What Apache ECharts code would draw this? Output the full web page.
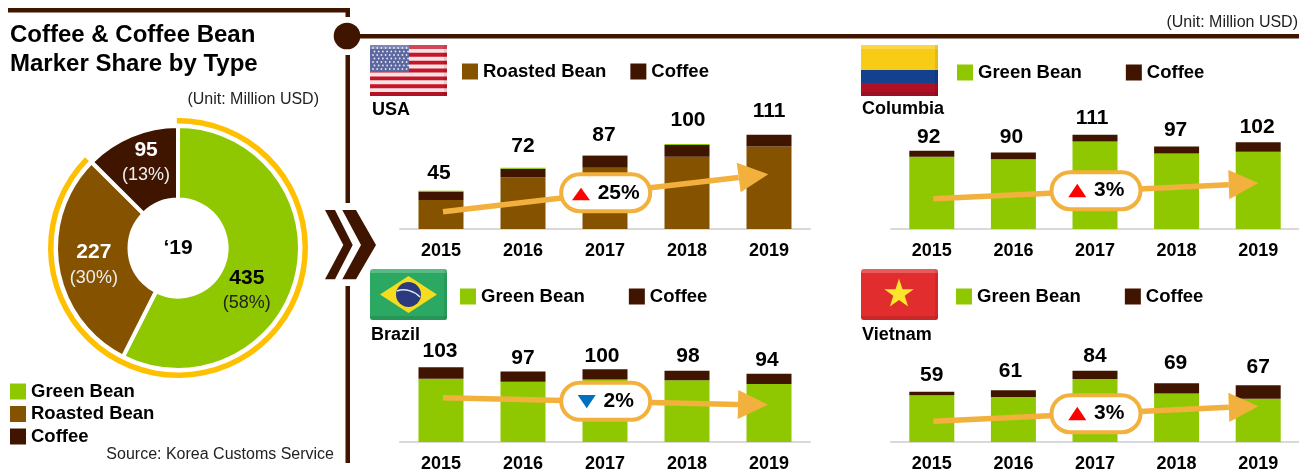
<!DOCTYPE html>
<html>
<head>
<meta charset="utf-8">
<title>Coffee & Coffee Bean Marker Share by Type</title>
<script src="https://cdn.jsdelivr.net/npm/echarts@6/dist/echarts.min.js"></script>
<style>
  html, body { margin: 0; padding: 0; background: #fff; }
  #chart { width: 1299px; height: 473px; }
</style>
</head>
<body>
<div id="chart"></div>
<script>
// values (Million USD)
const years = ['2015', '2016', '2017', '2018', '2019']

const shareNames = ['Green Bean', 'Roasted Bean', 'Coffee']
const shareValues = [435, 227, 95]
const sharePercents = [58, 30, 13]

const usaRoasted = [34, 61, 72, 85, 97]
const usaCoffee = [10, 10, 14, 14, 14]
const usaGreen = [1, 1, 1, 1, 0]
const usaTotals = [45, 72, 87, 100, 111]

const columbiaGreen = [85, 82, 103, 89, 91]
const columbiaCoffee = [7, 8, 8, 8, 11]
const columbiaTotals = [92, 90, 111, 97, 102]

const brazilGreen = [87, 83, 86, 85, 80]
const brazilCoffee = [16, 14, 14, 13, 14]
const brazilTotals = [103, 97, 100, 98, 94]

const vietnamGreen = [55, 53, 74, 57, 51]
const vietnamCoffee = [4, 8, 10, 12, 15]
const vietnamRoasted = [0, 0, 0, 0, 1]
const vietnamTotals = [59, 61, 84, 69, 67]

const GREEN = '#8FC800'
const BROWN = '#855200'
const DARK = '#401500'
const GOLD = '#FFC000'
const ORANGE = '#F2B13C'
const FONT = '"Liberation Sans", Arial, sans-serif'

const colorOf = { 'Green Bean': GREEN, 'Roasted Bean': BROWN, 'Coffee': DARK }

// label nudges so the totals sit where the reference has them
const panels = [
  {
    left: 400, bottom: 229, yMax: 153, totals: usaTotals,
    stack: [['Roasted Bean', usaRoasted], ['Coffee', usaCoffee], ['Green Bean', usaGreen]],
    nudge: [[-2, -4], [0, -8], [-1, -6], [1, -10], [0, -10]]
  },
  {
    left: 891, bottom: 229, yMax: 153, totals: columbiaTotals,
    stack: [['Green Bean', columbiaGreen], ['Coffee', columbiaCoffee]],
    nudge: [[-3, 0], [-2, -2], [-3, -3], [-1, -3], [-1, -2]]
  },
  {
    left: 400, bottom: 442, yMax: 179, totals: brazilTotals,
    stack: [['Green Bean', brazilGreen], ['Coffee', brazilCoffee]],
    nudge: [[-1, -2], [0, 0], [-3, 0], [1, -1], [-2, 0]]
  },
  {
    left: 891, bottom: 442, yMax: 153, totals: vietnamTotals,
    stack: [['Green Bean', vietnamGreen], ['Coffee', vietnamCoffee], ['Roasted Bean', vietnamRoasted]],
    nudge: [[0, -3], [-3, -5], [0, -1], [-1, -7], [0, -4]]
  }
]

const grids = []
const xAxes = []
const yAxes = []
const barSeries = []

panels.forEach((p, i) => {
  grids.push({ left: p.left, width: 410, top: p.bottom - 130, height: 130 })
  xAxes.push({
    type: 'category',
    gridIndex: i,
    data: years,
    axisTick: { show: false },
    axisLine: { lineStyle: { color: '#D9D9D9', width: 2 } },
    axisLabel: { color: '#000', fontSize: 18, fontWeight: 'bold', fontFamily: FONT, margin: 13 }
  })
  yAxes.push({ type: 'value', gridIndex: i, min: 0, max: p.yMax, show: false })

  p.stack.forEach(([name, values]) => {
    barSeries.push({
      type: 'bar',
      name: name,
      xAxisIndex: i,
      yAxisIndex: i,
      stack: 'panel' + i,
      barWidth: 45,
      data: values,
      itemStyle: { color: colorOf[name] }
    })
  })

  // invisible line that only carries the total above each stack
  barSeries.push({
    type: 'line',
    name: 'Total ' + i,
    xAxisIndex: i,
    yAxisIndex: i,
    symbol: 'circle',
    symbolSize: 1,
    showSymbol: true,
    showAllSymbol: true,
    itemStyle: { color: 'transparent' },
    lineStyle: { opacity: 0 },
    z: 5,
    data: p.totals.map((v, j) => ({ value: v, label: { offset: p.nudge[j] } })),
    label: { show: true, position: 'top', distance: 2.5, color: '#000', fontSize: 21, fontWeight: 'bold', fontFamily: FONT }
  })
})

const PIE_CENTER = [178, 248]
const pieLabelShift = [[-17, 22], [3, 3], [2, -4]]

const pieSeries = [
  {
    type: 'pie',
    name: 'Share',
    center: PIE_CENTER,
    radius: [48.5, 122],
    startAngle: 90,
    clockwise: true,
    silent: true,
    itemStyle: { borderColor: '#fff', borderWidth: 4 },
    data: shareNames.map((name, i) => ({
      name: name,
      value: shareValues[i],
      itemStyle: { color: colorOf[name] },
      label: {
        rich: i === 0
          ? { v: { fontSize: 21, fontWeight: 'bold', color: '#000', lineHeight: 25, fontFamily: FONT }, p: { fontSize: 18, color: '#222', lineHeight: 25, fontFamily: FONT } }
          : { v: { fontSize: 21, fontWeight: 'bold', color: '#fff', lineHeight: 25, fontFamily: FONT }, p: { fontSize: 18, color: '#eee', lineHeight: 25, fontFamily: FONT } }
      }
    })),
    label: {
      show: true,
      position: 'inside',
      formatter: (a) => `{v|${a.value}}\n{p|(${sharePercents[a.dataIndex]}%)}`
    },
    labelLine: { show: false },
    labelLayout: (a) => ({ dx: pieLabelShift[a.dataIndex][0], dy: pieLabelShift[a.dataIndex][1] })
  },
  {
    // gold ring that leaves the coffee slice open
    type: 'pie',
    name: 'Ring',
    center: PIE_CENTER,
    radius: [124.5, 130],
    startAngle: 90.5,
    silent: true,
    label: { show: false },
    labelLine: { show: false },
    data: [
      { name: 'ring', value: shareValues[0] + shareValues[1], itemStyle: { color: GOLD } },
      { name: 'gap', value: shareValues[2], itemStyle: { color: 'transparent' } }
    ]
  }
]

const legendText = { color: '#000', fontSize: 18.5, fontWeight: 'bold', fontFamily: FONT }
const legendBase = { selectedMode: false, icon: 'rect', itemWidth: 16, itemHeight: 16, textStyle: legendText, padding: 0 }

const legends = [
  { ...legendBase, orient: 'vertical', left: 10, top: 382, itemGap: 3.5, data: shareNames },
  { ...legendBase, left: 462, top: 62, itemGap: 24, data: ['Roasted Bean', 'Coffee'] },
  { ...legendBase, left: 957, top: 63, itemGap: 44, data: ['Green Bean', 'Coffee'] },
  { ...legendBase, left: 460, top: 287, itemGap: 44, data: ['Green Bean', 'Coffee'] },
  { ...legendBase, left: 956, top: 287, itemGap: 44, data: ['Green Bean', 'Coffee'] }
]

// ---- decoration: rules, chevrons, flags, trend arrows ----
const deco = []

function addRect(x, y, w, h, fill, extra) {
  deco.push({ type: 'rect', z: 20, shape: { x, y, width: w, height: h, r: (extra && extra.r) || 0 }, style: { fill, opacity: extra && extra.opacity !== undefined ? extra.opacity : 1 } })
}
function addPoly(points, fill, z) {
  deco.push({ type: 'polygon', z: z || 20, shape: { points }, style: { fill } })
}
function addText(text, x, y, size, bold, align, color) {
  deco.push({
    type: 'text', z: 30, x, y,
    style: { text, fill: color || '#000', font: `${bold ? 'bold ' : ''}${size}px ${FONT}`, textAlign: align || 'left', textVerticalAlign: 'middle' }
  })
}

addRect(8, 8, 342, 4.5, DARK)
addRect(345.5, 8, 4.5, 9, DARK)
addRect(345.5, 55, 4.5, 148, DARK)
addRect(345.5, 286, 4.5, 177, DARK)
addRect(347, 34, 952, 4.5, DARK)
deco.push({ type: 'circle', z: 21, shape: { cx: 347, cy: 36, r: 13.3 }, style: { fill: DARK } })

addPoly([[325, 210], [335, 210], [352.7, 245], [335, 279.3], [325, 279.3], [343.3, 245]], DARK)
addPoly([[342.3, 210], [356, 210], [376, 245], [356, 279.3], [342.3, 279.3], [361, 245]], DARK)

function flagFinish(x, y) {
  addRect(x, y, 77, 4, '#fff', { opacity: 0.22 })
  addRect(x, y + 47, 77, 4, '#000', { opacity: 0.1 })
  addRect(x + 74, y, 3, 51, '#000', { opacity: 0.08 })
}

function flagUsa(x, y) {
  addRect(x, y, 77, 51, '#F3E3E3', { r: 3 })
  const stripe = 51 / 13
  for (let i = 0; i < 13; i += 2) addRect(x, y + i * stripe, 77, stripe, '#C8142B')
  addRect(x, y, 39, 27, '#5C679F')
  for (let r = 0; r < 7; r++) {
    for (let c = 0; c < 9; c++) {
      deco.push({ type: 'circle', z: 21, shape: { cx: x + 3 + c * 4.2 + (r % 2) * 1.5, cy: y + 3 + r * 3.5, r: 0.9 }, style: { fill: '#E6E8F2' } })
    }
  }
  flagFinish(x, y)
}

function flagColumbia(x, y) {
  addRect(x, y, 77, 25, '#F8CB14')
  addRect(x, y + 25, 77, 13, '#13418D')
  addRect(x, y + 38, 77, 13, '#AE1025')
  flagFinish(x, y)
}

function flagBrazil(x, y) {
  addRect(x, y, 77, 51, '#2BA862', { r: 3 })
  addPoly([[x + 10, y + 25.5], [x + 38.5, y + 7], [x + 67, y + 25.5], [x + 38.5, y + 44]], '#F5DC1E', 20)
  deco.push({ type: 'circle', z: 21, shape: { cx: x + 38.5, cy: y + 25.5, r: 12.5 }, style: { fill: '#2B3A7E' } })
  deco.push({ type: 'bezierCurve', z: 21, shape: { x1: x + 27, y1: y + 22, x2: x + 50, y2: y + 28, cpx1: x + 35, cpy1: y + 19, cpx2: x + 44, cpy2: y + 22 }, style: { stroke: '#E4E8F0', lineWidth: 1.5, fill: 'none' } })
  flagFinish(x, y)
}

function flagVietnam(x, y) {
  addRect(x, y, 77, 51, '#E12D2D', { r: 3 })
  const pts = []
  for (let i = 0; i < 10; i++) {
    const r = i % 2 ? 6 : 15.5
    const a = -Math.PI / 2 + i * Math.PI / 5
    pts.push([x + 38 + r * Math.cos(a), y + 25 + r * Math.sin(a)])
  }
  addPoly(pts, '#FBE62E', 21)
  flagFinish(x, y)
}

flagUsa(370, 45)
flagColumbia(861, 45)
flagBrazil(370, 269)
flagVietnam(861, 269)

function trend(o) {
  const midX = (o.base[0][0] + o.base[1][0]) / 2
  const midY = (o.base[0][1] + o.base[1][1]) / 2
  deco.push({ type: 'line', z: 20, shape: { x1: o.start[0], y1: o.start[1], x2: midX, y2: midY }, style: { stroke: ORANGE, lineWidth: 5.5 } })
  addPoly([o.base[0], o.tip, o.base[1]], ORANGE, 20)
  deco.push({
    type: 'rect', z: 22,
    shape: { x: o.pill[0] - 44.5, y: o.pill[1] - 18.5, width: 89, height: 37, r: 18.5 },
    style: { fill: '#fff', stroke: ORANGE, lineWidth: 4 }
  })
  const [tx, top, bottom] = o.tri
  if (o.up) addPoly([[tx, top], [tx + 9, bottom], [tx - 9, bottom]], '#FF0000', 23)
  else addPoly([[tx - 9, top], [tx + 9, top], [tx, bottom]], '#0070C0', 23)
  addText(o.text, o.textAt[0], o.textAt[1], 21, true, 'center')
}

trend({ start: [443, 211.7], tip: [768.3, 174.3], base: [[736.7, 162.7], [740.7, 192.3]], pill: [605.7, 192.7], tri: [581, 187.7, 200.3], up: true, text: '25%', textAt: [618.7, 193.3] })
trend({ start: [933.3, 198.7], tip: [1258.3, 183], base: [[1228.3, 170], [1229.3, 199.3]], pill: [1096, 190.7], tri: [1077.3, 183.7, 197.3], up: true, text: '3%', textAt: [1109.3, 190.3] })
trend({ start: [443, 397.7], tip: [768, 404.7], base: [[738.3, 390], [737.7, 419]], pill: [605.7, 401.3], tri: [586.7, 395, 408.3], up: false, text: '2%', textAt: [618.7, 401.7] })
trend({ start: [933.3, 421.3], tip: [1258.3, 406.3], base: [[1228.3, 392.7], [1229.3, 422]], pill: [1096, 413.7], tri: [1077.3, 406.7, 420.3], up: true, text: '3%', textAt: [1109.3, 413.6] })

addText('Coffee & Coffee Bean', 10, 35, 24, true)
addText('Marker Share by Type', 10, 64, 24, true)
addText('(Unit: Million USD)', 319, 99.5, 16, false, 'right', '#222')
addText('(Unit: Million USD)', 1298, 22.5, 16, false, 'right', '#222')
addText('Source: Korea Customs Service', 334, 454.5, 16, false, 'right', '#222')
addText('\u201819', 178, 248, 21, true, 'center')
addText('USA', 372, 110, 18, true)
addText('Columbia', 862, 109.5, 18, true)
addText('Brazil', 371, 335, 18, true)
addText('Vietnam', 862, 335, 18, true)

const chart = echarts.init(document.getElementById('chart'))
chart.setOption({
  animation: false,
  backgroundColor: '#fff',
  textStyle: { fontFamily: FONT },
  grid: grids,
  xAxis: xAxes,
  yAxis: yAxes,
  legend: legends,
  graphic: { elements: deco },
  series: [...pieSeries, ...barSeries]
})
</script>
</body>
</html>
